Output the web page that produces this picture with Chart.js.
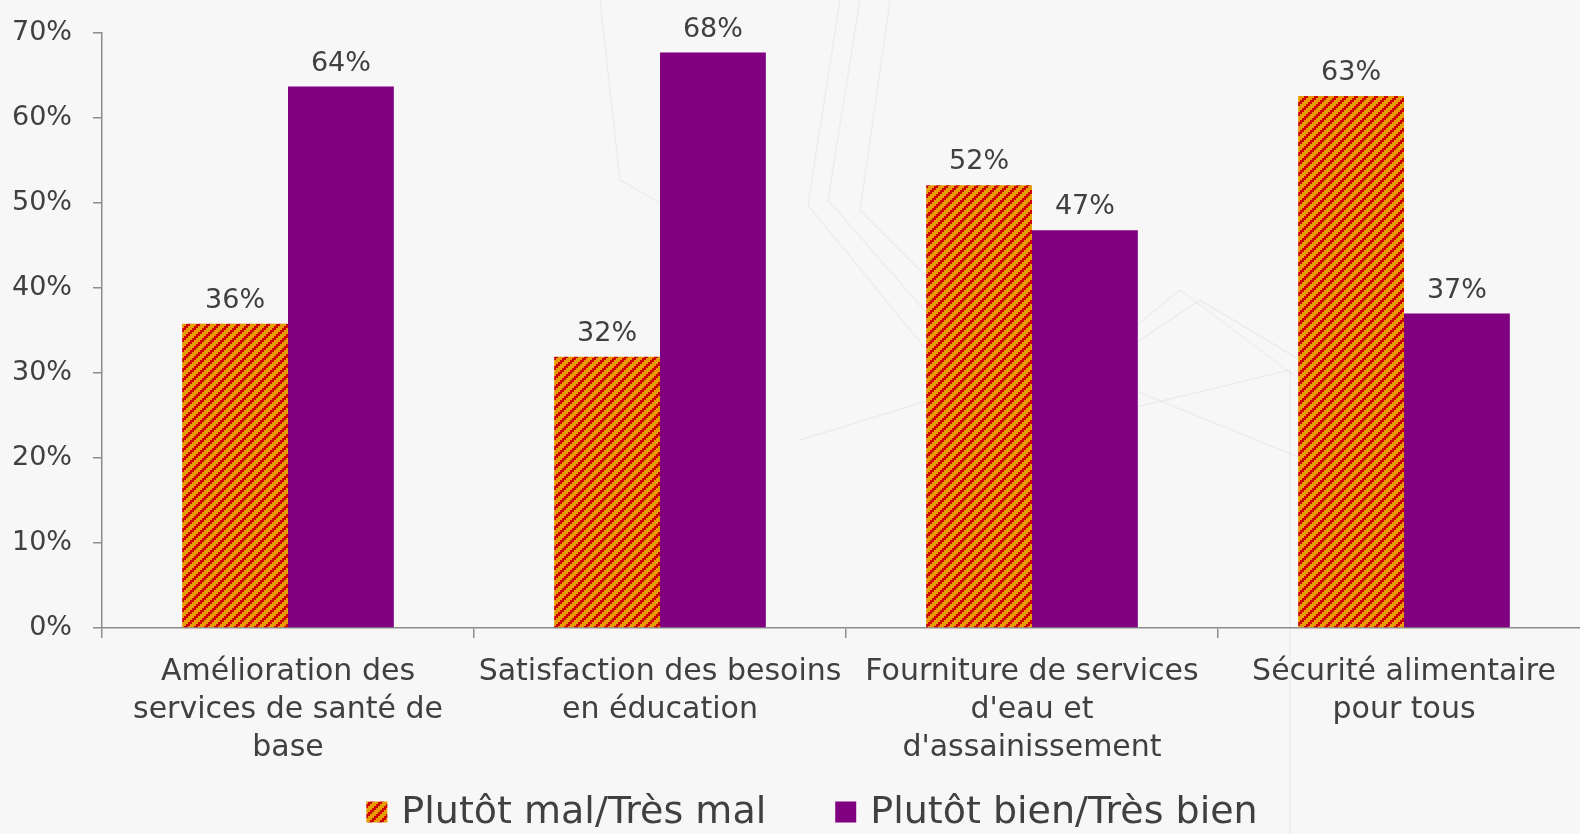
<!DOCTYPE html>
<html>
<head>
<meta charset="utf-8">
<script src="https://cdn.jsdelivr.net/npm/chart.js@4"></script>
<style>
  html, body { margin: 0; padding: 0; background: #f7f7f7; overflow: hidden; }
</style>
</head>
<body>
<canvas id="myChart" width="1600" height="834"></canvas>
<script>
const categories = [
  ["Amélioration des", "services de santé de", "base"],
  ["Satisfaction des besoins", "en éducation"],
  ["Fourniture de services", "d'eau et", "d'assainissement"],
  ["Sécurité alimentaire", "pour tous"]
];
const seriesNames = ["Plutôt mal/Très mal", "Plutôt bien/Très bien"];
const malValues = [35.8, 31.9, 52.1, 62.6];
const bienValues = [63.7, 67.7, 46.8, 37.0];
const yTicks = [0, 10, 20, 30, 40, 50, 60, 70];

const FONT = "'DejaVu Sans'";
const textColor = "#404040";
const axisColor = "#8c8c8c";

// orange with red diagonal stripes, crisp pixel steps
function makeHatch() {
  const c = document.createElement("canvas");
  c.width = 10; c.height = 10;
  const g = c.getContext("2d");
  for (let y = 0; y < 10; y++) {
    for (let x = 0; x < 10; x++) {
      const k = (Math.floor(x / 2) + Math.floor(y / 2)) % 5;
      g.fillStyle = k < 2 ? "#cc0000" : "#e69c00";
      g.fillRect(x, y, 1, 1);
    }
  }
  return g.createPattern(c, "repeat");
}
const hatch = makeHatch();
const purple = "#800080";

// faint decorative lines of the slide background
const backdrop = {
  id: "backdrop",
  beforeDraw(chart) {
    const ctx = chart.ctx;
    ctx.save();
    ctx.strokeStyle = "rgba(0,0,0,0.045)";
    ctx.lineWidth = 1.5;
    const paths = [
      [[840, 0], [808, 205], [1000, 440], [1290, 370], [1290, 834]],
      [[860, 0], [828, 200], [1020, 420], [1180, 290], [1300, 380]],
      [[890, 0], [860, 210], [1050, 400], [1200, 300], [1400, 420]],
      [[800, 440], [1060, 360], [1330, 470]],
      [[600, 0], [620, 180], [760, 260]]
    ];
    paths.forEach(p => {
      ctx.beginPath();
      p.forEach(([x, y], i) => i ? ctx.lineTo(x, y) : ctx.moveTo(x, y));
      ctx.stroke();
    });
    ctx.restore();
  }
};

const valueLabels = {
  id: "valueLabels",
  afterDatasetsDraw(chart) {
    const ctx = chart.ctx;
    ctx.save();
    ctx.font = "27px " + FONT;
    ctx.fillStyle = textColor;
    ctx.textAlign = "center";
    ctx.textBaseline = "alphabetic";
    chart.data.datasets.forEach((ds, i) => {
      chart.getDatasetMeta(i).data.forEach((bar, j) => {
        ctx.fillText(Math.round(ds.data[j]) + "%", bar.x, bar.y - 16);
      });
    });
    ctx.restore();
  }
};

const bottomLegend = {
  id: "bottomLegend",
  afterDraw(chart) {
    const ctx = chart.ctx;
    ctx.save();
    ctx.font = "38px " + FONT;
    ctx.textBaseline = "middle";
    ctx.textAlign = "left";
    const cy = 812, box = 21, gap = 14, itemGap = 69;
    const widths = chart.data.datasets.map(ds => box + gap + ctx.measureText(ds.label).width);
    const total = widths.reduce((a, b) => a + b, 0) + itemGap * (widths.length - 1);
    let x = 812 - total / 2;
    chart.data.datasets.forEach((ds, i) => {
      ctx.fillStyle = ds.backgroundColor;
      ctx.fillRect(x, cy - box / 2, box, box);
      ctx.fillStyle = textColor;
      ctx.fillText(ds.label, x + box + gap, cy + 1);
      x += widths[i] + itemGap;
    });
    ctx.restore();
  }
};

new Chart("myChart", {
  type: "bar",
  data: {
    labels: categories,
    datasets: [
      { label: seriesNames[0], data: malValues, backgroundColor: hatch },
      { label: seriesNames[1], data: bienValues, backgroundColor: purple }
    ]
  },
  options: {
    responsive: false,
    animation: false,
    layout: { padding: { top: 0, right: 10, left: 0, bottom: 0 } },
    datasets: { bar: { categoryPercentage: 0.569, barPercentage: 1 } },
    plugins: { legend: { display: false }, tooltip: { enabled: false } },
    scales: {
      x: {
        grid: { drawOnChartArea: false, color: axisColor, tickLength: 10, lineWidth: 1.5 },
        border: { color: axisColor, width: 1.5 },
        ticks: { color: textColor, padding: 15, maxRotation: 0, autoSkip: false,
                 font: { family: FONT, size: 30, lineHeight: 38 / 30 } },
        afterFit(s) { s.height = 206; }
      },
      y: {
        min: 0, max: 70,
        afterBuildTicks(s) { s.ticks = yTicks.map(v => ({ value: v })); },
        grid: { drawOnChartArea: false, color: axisColor, tickLength: 9, lineWidth: 1.5 },
        border: { color: axisColor, width: 1.5 },
        ticks: { color: textColor, padding: 21, font: { family: FONT, size: 27 },
                 callback: v => v + "%" },
        afterFit(s) { s.width = 102; s.paddingTop = 33; }
      }
    }
  },
  plugins: [backdrop, valueLabels, bottomLegend]
});
</script>
</body>
</html>
